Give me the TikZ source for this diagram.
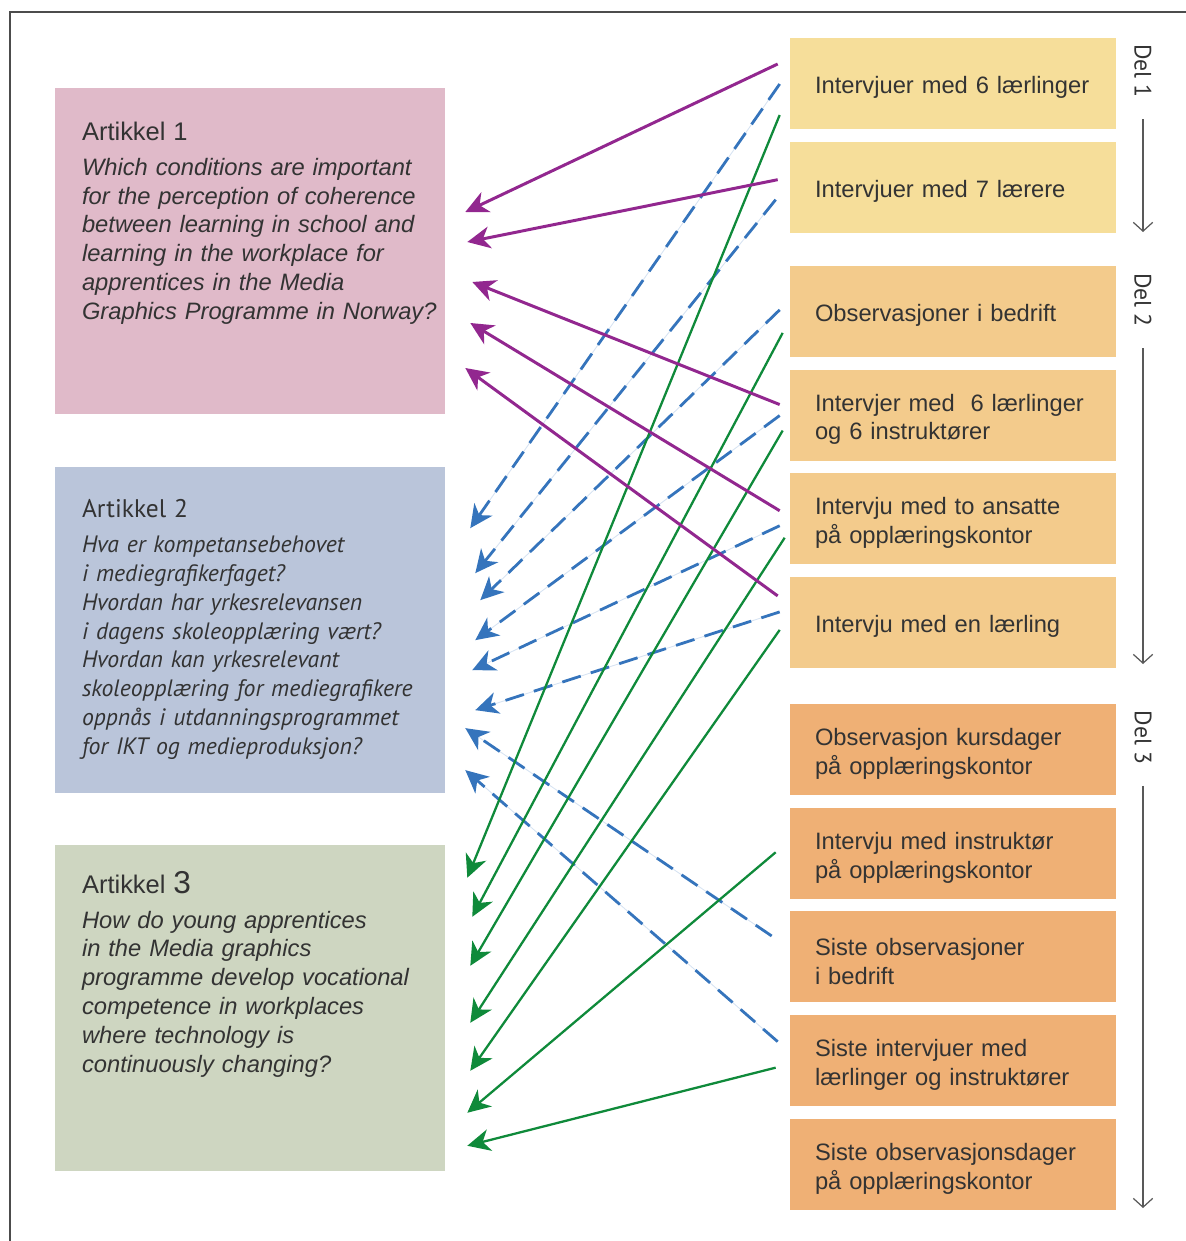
\documentclass[tikz,border=0pt]{standalone}
\usepackage{fontspec}
\setmainfont{Liberation Sans}
\newfontfamily\myriad{PT Sans}
\usetikzlibrary{arrows.meta,positioning}

\definecolor{artone}{HTML}{E0BAC9}
\definecolor{arttwo}{HTML}{BAC5DA}
\definecolor{artthree}{HTML}{CED6C1}
\definecolor{delone}{HTML}{F6DE9A}
\definecolor{deltwo}{HTML}{F3CB8C}
\definecolor{delthree}{HTML}{EFB075}
\definecolor{linkpurple}{HTML}{92278F}
\definecolor{linkblue}{HTML}{3574BC}
\definecolor{linkgreen}{HTML}{0F8A3A}
\definecolor{textgrey}{HTML}{333333}

\begin{document}
\begin{tikzpicture}[x=0.02cm,y=-0.02cm,->,>={Stealth[length=13pt,width=12.5pt,inset=4pt]},
  node distance=0.24cm,text=textgrey,
  article/.style={rectangle,minimum width=7.8cm,minimum height=6.52cm,inner sep=0pt},
  question/.style={anchor=north west,inner sep=0pt,text width=7.4cm,align=left,font=\fontsize{13.5}{16.4}\selectfont},
  source/.style={rectangle,minimum width=6.52cm,minimum height=1.82cm,inner xsep=0.5cm,inner ysep=0pt,
    text width=5.52cm,text height=14.6pt,align=left,font=\fontsize{13.5}{16.4}\selectfont},
  part/.style={rotate=-90,inner sep=2pt,font=\myriad\fontsize{13.5}{16}\selectfont}]

  \tikzstyle{purplelink} = [draw=linkpurple,line width=1.7pt]
  \tikzstyle{bluelink} = [draw=linkblue,line width=1.6pt,dash pattern=on 11pt off 6pt,
    preaction={draw=linkblue!20,line width=0.5pt,solid,-}]
  \tikzstyle{greenlink} = [draw=linkgreen,line width=1.3pt]
  \tikzstyle{partline} = [draw=black!65,line width=0.7pt,-{Straight Barb[length=5pt,width=11pt]},shorten <=10pt]

  \useasboundingbox (0,0) rectangle (1186,1241);
  \draw[-,line width=1.1pt,black!70] (1186,12) -- (10,12) -- (10,1241);

  % articles
  \node[article,fill=artone] (a1) at (250,251) {};
  \node[article,fill=arttwo] (a2) [below=1.04cm of a1] {};
  \node[article,fill=artthree] (a3) [below=1.04cm of a2] {};

  \node[question] (q1) at ([shift={(27,34)}]a1.north west)
    {{\fontsize{14.5}{16.4}\selectfont Artikkel 1}\\[3.4pt]
     \itshape Which conditions are important\\for the perception of coherence\\between learning in school and\\
     learning in the workplace for\\apprentices in the Media\\Graphics Programme in Norway?};
  \node[question,font=\myriad\fontsize{13.5}{16.4}\selectfont] (q2) at ([shift={(27,33)}]a2.north west)
    {{\fontsize{14.5}{16.4}\selectfont Artikkel 2}\\[3.4pt]
     \itshape Hva er kompetansebehovet\\i mediegrafikerfaget?\\Hvordan har yrkesrelevansen\\
     i dagens skoleopplæring vært?\\Hvordan kan yrkesrelevant\\skoleopplæring for mediegrafikere\\
     oppnås i utdanningsprogrammet\\for IKT og medieproduksjon?};
  \node[question] (q3) at ([shift={(27,26)}]a3.north west)
    {{\fontsize{14.5}{16.4}\selectfont Artikkel {\fontsize{18}{16.4}\selectfont 3}}\\[3.4pt]
     \itshape How do young apprentices\\in the Media graphics\\programme develop vocational\\
     competence in workplaces\\where technology is\\continuously changing?};

  % data sources
  \node[source,fill=delone] (r1) at (953,83.5) {Intervjuer med 6 lærlinger};
  \node[source,fill=delone] (r2) [below=of r1] {Intervjuer med 7 lærere};
  \node[source,fill=deltwo] (r3) [below=0.65cm of r2] {Observasjoner i bedrift};
  \node[source,fill=deltwo] (r4) [below=of r3] {Intervjer med\ \ 6 lærlinger\\og 6 instruktører};
  \node[source,fill=deltwo] (r5) [below=of r4] {Intervju med to ansatte\\på opplæringskontor};
  \node[source,fill=deltwo] (r6) [below=of r5] {Intervju med en lærling};
  \node[source,fill=delthree] (r7) [below=0.71cm of r6] {Observasjon kursdager\\på opplæringskontor};
  \node[source,fill=delthree] (r8) [below=of r7] {Intervju med instruktør\\på opplæringskontor};
  \node[source,fill=delthree] (r9) [below=of r8] {Siste observasjoner\\i bedrift};
  \node[source,fill=delthree] (r10) [below=of r9] {Siste intervjuer med\\lærlinger og instruktører};
  \node[source,fill=delthree] (r11) [below=of r10] {Siste observasjonsdager\\på opplæringskontor};

  % parts
  \node[part] (d1) at (1143,71) {Del 1};
  \node[part] (d2) at (1143,300) {Del 2};
  \node[part] (d3) at (1143,737.5) {Del 3};
  \coordinate (e1) at (1143,232);
  \coordinate (e2) at (1143,664);
  \coordinate (e3) at (1143,1208);
  \draw[partline] (d1) -- (e1);
  \draw[partline] (d2) -- (e2);
  \draw[partline] (d3) -- (e3);

  % links to artikkel 2
  \path[every edge/.append style=bluelink]
    ([shift={(-10,0.5)}]r1.west) edge ([shift={(25,-101.5)}]a2.east)
    ([shift={(-14,12.5)}]r2.west) edge ([shift={(30,-56.5)}]a2.east)
    ([shift={(-10,-1.5)}]r3.west) edge ([shift={(35,-29.5)}]a2.east)
    ([shift={(-10,0.5)}]r4.west) edge ([shift={(30,10.5)}]a2.east)
    ([shift={(-10,7)}]r5.west) edge ([shift={(27,40.5)}]a2.east)
    ([shift={(-10,-10.5)}]r6.west) edge ([shift={(30,80.5)}]a2.east)
    ([shift={(-18,-21)}]r9.west) edge ([shift={(20,98.5)}]a2.east)
    ([shift={(-12,-19)}]r10.west) edge ([shift={(20,140.5)}]a2.east);

  % links to artikkel 3
  \path[every edge/.append style=greenlink]
    ([shift={(-10,31.5)}]r1.west) edge ([shift={(22,-130.5)}]a3.east)
    ([shift={(-7,21.5)}]r3.west) edge ([shift={(27,-91.5)}]a3.east)
    ([shift={(-7,15.5)}]r4.west) edge ([shift={(25,-42.5)}]a3.east)
    ([shift={(-5,19)}]r5.west) edge ([shift={(25,14.5)}]a3.east)
    ([shift={(-10,7.5)}]r6.west) edge ([shift={(25,62.5)}]a3.east)
    ([shift={(-14,-1)}]r8.west) edge ([shift={(22,104.5)}]a3.east)
    ([shift={(-14,7)}]r10.west) edge ([shift={(22,137.5)}]a3.east);

  % links to artikkel 1
  \path[every edge/.append style=purplelink]
    ([shift={(-12,-19.5)}]r1.west) edge ([shift={(20,-39)}]a1.east)
    ([shift={(-12,-7.5)}]r2.west) edge ([shift={(22,-9)}]a1.east)
    ([shift={(-10,-10.5)}]r4.west) edge ([shift={(27,31)}]a1.east)
    ([shift={(-10,-8)}]r5.west) edge ([shift={(25,72)}]a1.east)
    ([shift={(-12,-26.5)}]r6.west) edge ([shift={(20,117)}]a1.east);
\end{tikzpicture}
\end{document}
